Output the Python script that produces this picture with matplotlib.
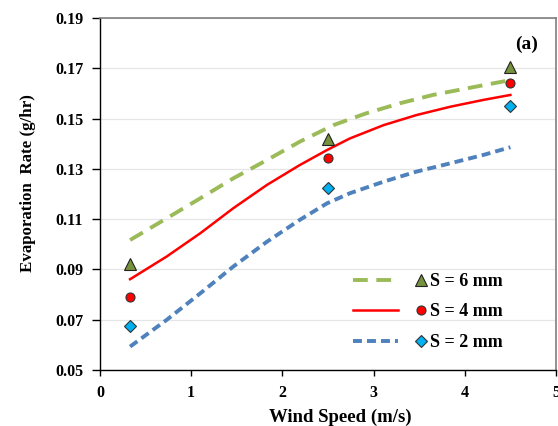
import matplotlib
matplotlib.use("Agg")
import matplotlib.pyplot as plt
from matplotlib.legend_handler import HandlerTuple

plt.rcParams['font.family'] = ['Liberation Serif', 'DejaVu Serif']

# Measured data points
x_meas = [0.33, 2.5, 4.5]
s6_meas = [0.092, 0.142, 0.1705]
s4_meas = [0.079, 0.1343, 0.164]
s2_meas = [0.0675, 0.1224, 0.155]

# Model curves
x6_curve = [0.33, 0.73, 1.10, 1.46, 1.83, 2.19, 2.56, 2.92, 3.29, 3.65, 4.02, 4.5]
s6_curve = [0.1017, 0.1103, 0.1183, 0.1262, 0.1335, 0.1408, 0.1474, 0.1521, 0.1561, 0.1594, 0.1620, 0.1653]
x4_curve = [0.33, 0.73, 1.10, 1.46, 1.83, 2.19, 2.49, 2.74, 3.11, 3.47, 3.84, 4.20, 4.5]
s4_curve = [0.0861, 0.0951, 0.1044, 0.1143, 0.1236, 0.1315, 0.1375, 0.1421, 0.1474, 0.1514, 0.1547, 0.1574, 0.1594]
x2_curve = [0.33, 0.73, 1.10, 1.46, 1.83, 2.19, 2.49, 2.74, 3.11, 3.47, 3.84, 4.20, 4.5]
s2_curve = [0.0593, 0.0699, 0.0805, 0.0911, 0.1010, 0.1097, 0.1163, 0.1203, 0.1249, 0.1289, 0.1322, 0.1355, 0.1386]

labels = ["S = 6 mm", "S = 4 mm", "S = 2 mm"]
x_ticks = [0, 1, 2, 3, 4, 5]
y_ticks = [0.05, 0.07, 0.09, 0.11, 0.13, 0.15, 0.17, 0.19]

fig = plt.figure(figsize=(5.58, 4.26), dpi=100)
ax = fig.add_axes([0.1792, 0.1315, 0.8172, 0.8262])

l6, = ax.plot(x6_curve, s6_curve, color='#9BBB59', lw=2.8, dashes=(3.8, 2.2), zorder=2)
l4, = ax.plot(x4_curve, s4_curve, color='#FF0000', lw=1.8, zorder=2)
l2, = ax.plot(x2_curve, s2_curve, color='#4F81BD', lw=2.8, dashes=(2.3, 1.3), zorder=2)

m6, = ax.plot(x_meas, s6_meas, ls='none', marker='^', ms=8.5, mfc='#76923C', mec='#222222', mew=0.8, zorder=3)
m4, = ax.plot(x_meas, s4_meas, ls='none', marker='o', ms=6.5, mfc='#FF0000', mec='#333333', mew=0.8, zorder=3)
m2, = ax.plot(x_meas, s2_meas, ls='none', marker='D', ms=6, mfc='#00B0F0', mec='#333333', mew=0.8, zorder=3)

ax.set_xlim(0, 5)
ax.set_ylim(0.05, 0.19)
ax.set_xticks(x_ticks)
ax.set_yticks(y_ticks)
ax.set_xticklabels([str(v) for v in x_ticks], fontweight='bold', fontsize=11.5)
ax.set_yticklabels([f"{v:.2f}" for v in y_ticks], fontweight='bold', fontsize=11.5)
ax.tick_params(axis='x', direction='out', length=4, width=1, color='black', pad=7)
ax.tick_params(axis='y', direction='out', length=6, width=1, color='black', pad=6)
ax.yaxis.grid(True, color='#E6E6E6', lw=0.9)
ax.set_axisbelow(True)

for side in ['left', 'bottom']:
    ax.spines[side].set_color('black')
    ax.spines[side].set_linewidth(1.0)
for side in ['top', 'right']:
    ax.spines[side].set_color('#7F7F7F')
    ax.spines[side].set_linewidth(1.2)

ax.set_xlabel("Wind Speed (m/s)", fontweight='bold', fontsize=13.5, va='center')
ax.xaxis.set_label_coords(0.526, -0.1335)
ax.set_ylabel("Evaporation  Rate (g/hr)", fontweight='bold', fontsize=12.2, va='center')
ax.yaxis.set_label_coords(-0.157, 0.531)

ax.text(0.936, 0.924, "(a)", transform=ax.transAxes, fontweight='bold', fontsize=14, ha='center', va='center')

leg = ax.legend([(l6, m6), (l4, m4), (l2, m2)], labels,
                handler_map={tuple: HandlerTuple(ndivide=None, pad=0.0)},
                loc='upper left', bbox_to_anchor=(0.555, 0.276), frameon=False,
                borderpad=0, borderaxespad=0,
                handlelength=4.98, handletextpad=-0.72, labelspacing=0.75,
                prop={'weight': 'bold', 'size': 13})

fig.savefig("out.png", dpi=100)
